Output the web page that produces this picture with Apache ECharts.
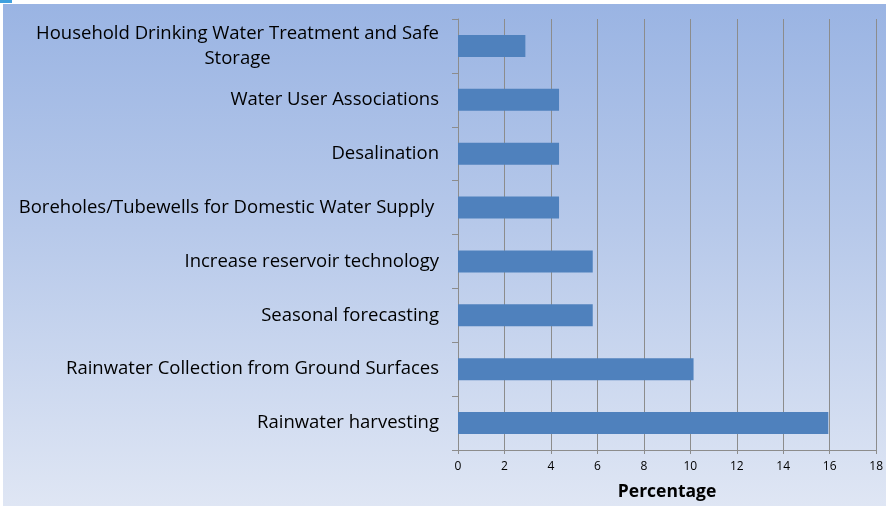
<!DOCTYPE html>
<html>
<head>
<meta charset="utf-8">
<script src="https://cdn.jsdelivr.net/npm/echarts@6/dist/echarts.min.js"></script>
<style>
  html, body { margin: 0; padding: 0; background: #fff; }
  #wrap { position: relative; width: 886px; height: 506px; }
  #corner { position: absolute; left: 0; top: 0; width: 12px; height: 3px; background: #3fa0de; }
  #chart { position: absolute; left: 3px; top: 4px; width: 883px; height: 502px;
    background: linear-gradient(to bottom, #9ab4e3 0%, #b7c9ea 45%, #dfe6f4 100%); }
</style>
</head>
<body>
<div id="wrap">
  <div id="corner"></div>
  <div id="chart"></div>
</div>
<script>
// categories, top to bottom
const categories = [
  'Household Drinking Water Treatment and Safe\nStorage',
  'Water User Associations',
  'Desalination',
  'Boreholes/Tubewells for Domestic Water Supply ',
  'Increase reservoir technology',
  'Seasonal forecasting',
  'Rainwater Collection from Ground Surfaces',
  'Rainwater harvesting'
];
const percentages = [2.9, 4.35, 4.35, 4.35, 5.8, 5.8, 10.14, 15.94];
const xTicks = [0, 2, 4, 6, 8, 10, 12, 14, 16, 18];

const chart = echarts.init(document.getElementById('chart'), null, {renderer: 'canvas'});
chart.setOption({
    backgroundColor: 'transparent',
    animation: false,
    textStyle: { fontFamily: 'Open Sans' },
    grid: { left: 455, right: 6, top: 15, bottom: 53, containLabel: false },
    xAxis: {
        type: 'value',
        min: xTicks[0],
        max: xTicks[xTicks.length - 1],
        interval: 2,
        name: 'Percentage',
        nameLocation: 'middle',
        nameGap: 33,
        nameTextStyle: { fontSize: 17.5, fontWeight: 'bold', color: '#000' },
        axisLine: { show: true, lineStyle: { color: '#8c8c8c', width: 1 } },
        axisTick: { show: true, length: 4, lineStyle: { color: '#8c8c8c' } },
        axisLabel: { fontSize: 12, color: '#000', margin: 11 },
        splitLine: { show: true, lineStyle: { color: '#8c8c8c', width: 1 } }
    },
    yAxis: {
        type: 'category',
        inverse: true,
        data: categories,
        axisLine: { show: true, lineStyle: { color: '#8c8c8c', width: 1 } },
        axisTick: { show: true, length: 6, lineStyle: { color: '#8c8c8c' } },
        axisLabel: {
            fontSize: 18.5, color: '#000', margin: 19, align: 'right', lineHeight: 25,
            // multi-line labels are centred line by line, as in the original
            formatter: function (v) {
                return v.split('\n').map(function (s) { return '{c|' + s + '}'; }).join('\n');
            },
            rich: {
                c: { align: 'center', fontSize: 18.5, color: '#000', lineHeight: 25, fontFamily: 'Open Sans' }
            }
        },
        splitLine: { show: false }
    },
    series: [{
        type: 'bar',
        data: percentages,
        barWidth: 22,
        itemStyle: { color: '#4f81bd' }
    }]
});
</script>
</body>
</html>
